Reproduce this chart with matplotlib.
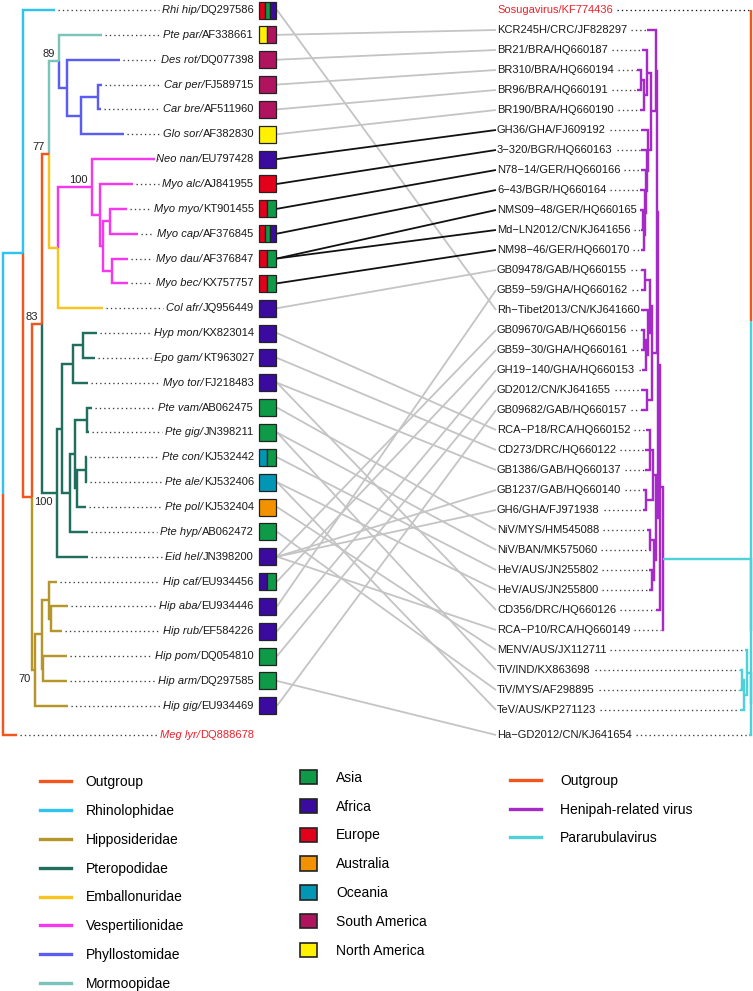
import numpy as np
import matplotlib
matplotlib.use("Agg")
import matplotlib.pyplot as plt
from matplotlib.lines import Line2D
from matplotlib.patches import Rectangle, Patch

plt.rcParams['font.family'] = ['Liberation Sans', 'DejaVu Sans']

# ---------------------------------------------------------------- data
FAMILY_COLORS = {
    "Outgroup": "#F0561E", "Rhinolophidae": "#2FC3EE", "Hipposideridae": "#B5962A",
    "Pteropodidae": "#1F6E5E", "Emballonuridae": "#F7C51E", "Vespertilionidae": "#F537EE",
    "Phyllostomidae": "#5A5CF2", "Mormoopidae": "#7CC3BC",
}
REGION_COLORS = {
    "Asia": "#0E9A47", "Africa": "#3A0B9E", "Europe": "#E2001A", "Australia": "#F39200",
    "Oceania": "#0096B4", "South America": "#B0145F", "North America": "#FFF100",
}
VIRUS_COLORS = {"Outgroup": "#F0561E", "Henipah-related virus": "#A52AC8",
                "Pararubulavirus": "#4FD1D9"}

LEFT_TIPS = ["Rhi hip", "Pte par", "Des rot", "Car per", "Car bre", "Glo sor", "Neo nan",
             "Myo alc", "Myo myo", "Myo cap", "Myo dau", "Myo bec", "Col afr", "Hyp mon",
             "Epo gam", "Myo tor", "Pte vam", "Pte gig", "Pte con", "Pte ale", "Pte pol",
             "Pte hyp", "Eid hel", "Hip caf", "Hip aba", "Hip rub", "Hip pom", "Hip arm",
             "Hip gig", "Meg lyr"]
LEFT_ACC = ["DQ297586", "AF338661", "DQ077398", "FJ589715", "AF511960", "AF382830", "EU797428",
            "AJ841955", "KT901455", "AF376845", "AF376847", "KX757757", "JQ956449", "KX823014",
            "KT963027", "FJ218483", "AB062475", "JN398211", "KJ532442", "KJ532406", "KJ532404",
            "AB062472", "JN398200", "EU934456", "EU934446", "EF584226", "DQ054810", "DQ297585",
            "EU934469", "DQ888678"]
LEFT_FAMILY = (["Rhinolophidae", "Mormoopidae"] + ["Phyllostomidae"] * 4 +
               ["Vespertilionidae"] * 6 + ["Emballonuridae"] + ["Pteropodidae"] * 10 +
               ["Hipposideridae"] * 6 + ["Outgroup"])
LEFT_TIP_X = [55, 102, 120, 102, 101, 124, 155, 133, 127, 138, 128, 128, 103, 97, 95, 88,
              92, 89, 87, 87, 86, 88, 88, 57, 68, 62, 67, 67, 68, 17]
LEFT_REGIONS = ["Europe/Asia/Africa", "North America/South America", "South America",
                "South America", "South America", "North America", "Africa", "Europe",
                "Europe/Asia", "Europe/Asia/Africa", "Europe/Asia", "Europe/Asia", "Africa",
                "Africa", "Africa", "Africa", "Asia", "Asia", "Oceania/Asia", "Oceania",
                "Australia", "Asia", "Africa", "Africa/Asia", "Africa", "Africa", "Asia",
                "Asia", "Africa", ""]
# internal nodes (post-order): id, depth x, branch colour key, children, bootstrap
LEFT_NODES = [
    ("carn", 98, "Phyllostomidae", ["Car per", "Car bre"], ""),
    ("cg", 81, "Phyllostomidae", ["carn", "Glo sor"], ""),
    ("phy", 67, "Phyllostomidae", ["Des rot", "cg"], ""),
    ("mp", 59, "Mormoopidae", ["Pte par", "phy"], "89"),
    ("db", 112, "Vespertilionidae", ["Myo dau", "Myo bec"], ""),
    ("mc", 110, "Vespertilionidae", ["Myo myo", "Myo cap"], ""),
    ("mcdb", 103, "Vespertilionidae", ["mc", "db"], ""),
    ("myo", 100, "Vespertilionidae", ["Myo alc", "mcdb"], ""),
    ("ves", 92, "Vespertilionidae", ["Neo nan", "myo"], "100"),
    ("ve", 58, "Emballonuridae", ["ves", "Col afr"], ""),
    ("n77", 49, "Outgroup", ["mp", "ve"], "77"),
    ("he", 83, "Pteropodidae", ["Hyp mon", "Epo gam"], ""),
    ("hem", 73, "Pteropodidae", ["he", "Myo tor"], ""),
    ("pvg", 87, "Pteropodidae", ["Pte vam", "Pte gig"], ""),
    ("ca", 86, "Pteropodidae", ["Pte con", "Pte ale"], ""),
    ("cap", 77, "Pteropodidae", ["ca", "Pte pol"], ""),
    ("x3", 75, "Pteropodidae", ["pvg", "cap"], ""),
    ("x2", 70, "Pteropodidae", ["x3", "Pte hyp"], ""),
    ("x1", 62, "Pteropodidae", ["hem", "x2"], ""),
    ("pt", 57, "Pteropodidae", ["x1", "Eid hel"], "100b"),
    ("c", 42, "Outgroup", ["n77", "pt"], "83"),
    ("ar", 51, "Hipposideridae", ["Hip aba", "Hip rub"], ""),
    ("hc", 49, "Hipposideridae", ["Hip caf", "ar"], ""),
    ("pa", 43, "Hipposideridae", ["Hip pom", "Hip arm"], ""),
    ("h2", 42, "Hipposideridae", ["hc", "pa"], ""),
    ("hip", 35, "Hipposideridae", ["h2", "Hip gig"], "70b"),
    ("b", 32, "Outgroup", ["c", "hip"], ""),
    ("a", 23, "Rhinolophidae", ["Rhi hip", "b"], ""),
    ("root", 3, "Outgroup", ["a", "Meg lyr"], ""),
]

RIGHT_TIPS = ["Sosugavirus/KF774436", "KCR245H/CRC/JF828297", "BR21/BRA/HQ660187",
              "BR310/BRA/HQ660194", "BR96/BRA/HQ660191", "BR190/BRA/HQ660190",
              "GH36/GHA/FJ609192", "3\u2212320/BGR/HQ660163", "N78\u221214/GER/HQ660166",
              "6\u221243/BGR/HQ660164", "NMS09\u221248/GER/HQ660165",
              "Md\u2212LN2012/CN/KJ641656", "NM98\u221246/GER/HQ660170",
              "GB09478/GAB/HQ660155", "GB59\u221259/GHA/HQ660162",
              "Rh\u2212Tibet2013/CN/KJ641660", "GB09670/GAB/HQ660156",
              "GB59\u221230/GHA/HQ660161", "GH19\u2212140/GHA/HQ660153", "GD2012/CN/KJ641655",
              "GB09682/GAB/HQ660157", "RCA\u2212P18/RCA/HQ660152", "CD273/DRC/HQ660122",
              "GB1386/GAB/HQ660137", "GB1237/GAB/HQ660140", "GH6/GHA/FJ971938",
              "NiV/MYS/HM545088", "NiV/BAN/MK575060", "HeV/AUS/JN255802", "HeV/AUS/JN255800",
              "CD356/DRC/HQ660126", "RCA\u2212P10/RCA/HQ660149", "MENV/AUS/JX112711",
              "TiV/IND/KX863698", "TiV/MYS/AF298895", "TeV/AUS/KP271123",
              "Ha\u2212GD2012/CN/KJ641654"]
RIGHT_GROUP = (["Outgroup"] + ["Henipah-related virus"] * 31 + ["Pararubulavirus"] * 5)
RIGHT_TIP_X = [751, 647, 642, 637, 637, 640, 641, 641, 641, 640, 640, 641, 641, 641, 641,
               641, 641, 641, 642, 641, 641, 646, 645, 645, 643, 643, 647, 649, 649, 649,
               656, 662, 745, 740, 740, 740, 749]
R = RIGHT_TIPS
RIGHT_NODES = [
    ("brb", 641, "Henipah-related virus", [R[3], R[4]]),
    ("bra", 644, "Henipah-related virus", ["brb", R[5]]),
    ("brn", 647, "Henipah-related virus", [R[2], "bra"]),
    ("eu3", 643, "Henipah-related virus", [R[10], R[11]]),
    ("eu2", 644, "Henipah-related virus", ["eu3", R[12]]),
    ("eu1", 645, "Henipah-related virus", [R[9], "eu2"]),
    ("eu0", 646, "Henipah-related virus", [R[8], "eu1"]),
    ("eum", 647, "Henipah-related virus", [R[7], "eu0"]),
    ("eu", 648, "Henipah-related virus", [R[6], "eum"]),
    ("kb", 651, "Henipah-related virus", ["brn", "eu"]),
    ("k", 656, "Henipah-related virus", [R[1], "kb"]),
    ("afa", 645, "Henipah-related virus", [R[13], R[14]]),
    ("afb", 644, "Henipah-related virus", [R[16], R[17]]),
    ("afd", 646, "Henipah-related virus", ["afb", R[18]]),
    ("afe", 648, "Henipah-related virus", [R[15], "afd"]),
    ("aff", 650, "Henipah-related virus", ["afa", "afe"]),
    ("afg", 647, "Henipah-related virus", [R[19], R[20]]),
    ("af", 652, "Henipah-related virus", ["aff", "afg"]),
    ("x1", 657, "Henipah-related virus", ["k", "af"]),
    ("ba", 650, "Henipah-related virus", [R[21], R[22], R[23]]),
    ("bb", 646, "Henipah-related virus", [R[24], R[25]]),
    ("bc", 653, "Henipah-related virus", ["ba", "bb"]),
    ("bd", 650, "Henipah-related virus", [R[26], R[27]]),
    ("be", 652, "Henipah-related virus", [R[28], R[29]]),
    ("bf", 654, "Henipah-related virus", ["bd", "be"]),
    ("x2", 656, "Henipah-related virus", ["bc", "bf"]),
    ("x", 658, "Henipah-related virus", ["x1", "x2"]),
    ("h1", 660, "Henipah-related virus", ["x", R[30]]),
    ("hr", 663, "Pararubulavirus", ["h1", R[31]]),
    ("pa", 742, "Pararubulavirus", [R[33], R[34]]),
    ("pb", 744, "Pararubulavirus", ["pa", R[35]]),
    ("pc", 747, "Pararubulavirus", [R[32], "pb"]),
    ("pd", 751, "Pararubulavirus", ["pc", R[36]]),
    ("z", 751, "Pararubulavirus", ["hr", "pd"]),
    ("root", 751, "Outgroup", [R[0], "z"]),
]

# host -> virus associations (left tip, right tip index)
LINK_HOST = ["Rhi hip", "Pte par", "Des rot", "Car per", "Car bre", "Glo sor", "Neo nan",
             "Myo alc", "Myo myo", "Myo cap", "Myo dau", "Myo dau", "Myo bec", "Col afr",
             "Hyp mon", "Epo gam", "Myo tor", "Myo tor", "Pte vam", "Pte gig", "Pte gig",
             "Pte con", "Pte ale", "Pte ale", "Pte pol", "Pte hyp", "Eid hel", "Eid hel",
             "Eid hel", "Eid hel", "Hip caf", "Hip aba", "Hip rub", "Hip pom", "Hip arm",
             "Hip gig"]
LINK_VIRUS = [15, 1, 2, 3, 4, 5, 6, 7, 8, 9, 10, 11, 12, 13, 21, 22, 23, 30, 26, 27, 33,
              28, 29, 35, 32, 34, 16, 24, 25, 31, 17, 14, 18, 19, 36, 20]
LINK_BLACK = ["Neo nan", "Myo alc", "Myo myo", "Myo cap", "Myo dau", "Myo bec"]

LEGEND_FAMILIES = ["Outgroup", "Rhinolophidae", "Hipposideridae", "Pteropodidae",
                   "Emballonuridae", "Vespertilionidae", "Phyllostomidae", "Mormoopidae"]
LEGEND_REGIONS = ["Asia", "Africa", "Europe", "Australia", "Oceania", "South America",
                  "North America"]
LEGEND_VIRUS = ["Outgroup", "Henipah-related virus", "Pararubulavirus"]

# ---------------------------------------------------------------- figure
W, H = 753, 991
fig = plt.figure(figsize=(W / 100, H / 100), dpi=100)
ax = fig.add_axes([0, 0, 1, 1])
ax.set_xlim(0, W)
ax.set_ylim(H, 0)
ax.axis('off')
renderer = fig.canvas.get_renderer()

TREE_LW = 1.75
FS = 8.0
DOT = dict(ls=(0, (1, 2.3)), lw=0.95, color='#3a3a3a', zorder=2)
RED = '#F0202A'


def text_width(t):
    return t.get_window_extent(renderer).width


def layout(nodes, pos):
    for nid, x, ck, children, *rest in nodes:
        ys = [pos[c][1] for c in children]
        pos[nid] = (x, 0.5 * (min(ys) + max(ys)))


def draw_tree(nodes, pos, colour):
    for nid, x, ck, children, *rest in nodes:
        px, py = pos[nid]
        for c in children:
            cx, cy = pos[c]
            ax.plot([px, px, cx], [py, cy, cy], color=colour[c], lw=TREE_LW,
                    solid_joinstyle='miter', solid_capstyle='butt', zorder=3)


# ---- left tree
left_y = {n: (10 + 24.85 * i) for i, n in enumerate(LEFT_TIPS[:-1])}
left_y[LEFT_TIPS[-1]] = 735
lpos = {n: (LEFT_TIP_X[i], left_y[n]) for i, n in enumerate(LEFT_TIPS)}
layout(LEFT_NODES, lpos)
lcol = {n: FAMILY_COLORS[LEFT_FAMILY[i]] for i, n in enumerate(LEFT_TIPS)}
for nid, x, ck, ch, bs in LEFT_NODES:
    lcol[nid] = FAMILY_COLORS[ck]
draw_tree(LEFT_NODES, lpos, lcol)

for nid, x, ck, ch, bs in LEFT_NODES:
    if bs:
        nx, ny = lpos[nid]
        below = bs.endswith('b')
        ax.text(nx - 4, ny + (4 if below else -2), bs.rstrip('b'), ha='right',
                va='top' if below else 'bottom', fontsize=8, color='#222222')

LABEL_R = 254
for i, n in enumerate(LEFT_TIPS):
    y = left_y[n]
    col = RED if LEFT_FAMILY[i] == "Outgroup" else '#1a1a1a'
    t1 = ax.text(LABEL_R, y, LEFT_ACC[i], ha='right', va='center', fontsize=FS, color=col)
    w1 = text_width(t1) + 0.6
    t2 = ax.text(LABEL_R - w1, y, n + "/", ha='right', va='center', fontsize=FS,
                 style='italic', color=col)
    w2 = text_width(t2)
    ax.plot([LEFT_TIP_X[i] + 3, LABEL_R - w1 - w2 - 3], [y, y], **DOT)

# region squares
SQ_X, SQ_W, SQ_H = 259, 17, 17
for i, n in enumerate(LEFT_TIPS):
    if not LEFT_REGIONS[i]:
        continue
    regs = LEFT_REGIONS[i].split("/")
    y = left_y[n]
    sw = SQ_W / len(regs)
    for k, r in enumerate(regs):
        ax.add_patch(Rectangle((SQ_X + k * sw, y - SQ_H / 2), sw, SQ_H,
                               facecolor=REGION_COLORS[r], edgecolor='#222222', lw=0.9,
                               zorder=6))

# ---- right tree
right_y = [10 + 20 * i for i in range(len(RIGHT_TIPS) - 1)] + [735]
rpos = {n: (RIGHT_TIP_X[i], right_y[i]) for i, n in enumerate(RIGHT_TIPS)}
layout(RIGHT_NODES, rpos)
rcol = {n: VIRUS_COLORS[RIGHT_GROUP[i]] for i, n in enumerate(RIGHT_TIPS)}
for nid, x, ck, ch in RIGHT_NODES:
    rcol[nid] = VIRUS_COLORS[ck]
draw_tree(RIGHT_NODES, rpos, rcol)

LABEL_L = 497
for i, n in enumerate(RIGHT_TIPS):
    y = right_y[i]
    col = RED if RIGHT_GROUP[i] == "Outgroup" else '#1a1a1a'
    t = ax.text(LABEL_L, y, n, ha='left', va='center', fontsize=FS, color=col)
    w = text_width(t)
    dot = dict(DOT)
    if i == 0:
        dot['color'] = '#111111'
    ax.plot([LABEL_L + w + 4, RIGHT_TIP_X[i] - 1], [y, y], **dot)

# ---- associations
for h, v in zip(LINK_HOST, LINK_VIRUS):
    black = h in LINK_BLACK
    ax.plot([SQ_X + SQ_W + 1, LABEL_L - 1], [left_y[h], right_y[v]],
            color='#111111' if black else '#C4C4C4', lw=1.3,
            zorder=4 if black else 1, solid_capstyle='butt')

# ---- legends
fam_h = [Line2D([0], [0], color=FAMILY_COLORS[f], lw=2.4) for f in LEGEND_FAMILIES]
leg1 = ax.legend(fam_h, LEGEND_FAMILIES, loc='upper left', bbox_to_anchor=(40, 775),
                 bbox_transform=ax.transData, frameon=False, fontsize=10,
                 handlelength=2.2, handletextpad=1.1, labelspacing=1.07, borderpad=0,
                 borderaxespad=0)
ax.add_artist(leg1)
reg_h = [Patch(facecolor=REGION_COLORS[r], edgecolor='#222222', lw=1.2)
         for r in LEGEND_REGIONS]
leg2 = ax.legend(reg_h, LEGEND_REGIONS, loc='upper left', bbox_to_anchor=(300, 770),
                 bbox_transform=ax.transData, frameon=False, fontsize=10,
                 handlelength=1.22, handleheight=1.22, handletextpad=1.37,
                 labelspacing=1.0, borderpad=0, borderaxespad=0)
ax.add_artist(leg2)
vir_h = [Line2D([0], [0], color=VIRUS_COLORS[v], lw=2.4) for v in LEGEND_VIRUS]
ax.legend(vir_h, LEGEND_VIRUS, loc='upper left', bbox_to_anchor=(510, 774),
          bbox_transform=ax.transData, frameon=False, fontsize=10,
          handlelength=2.2, handletextpad=1.4, labelspacing=1.05, borderpad=0,
          borderaxespad=0)

fig.savefig("out.png", dpi=100)
